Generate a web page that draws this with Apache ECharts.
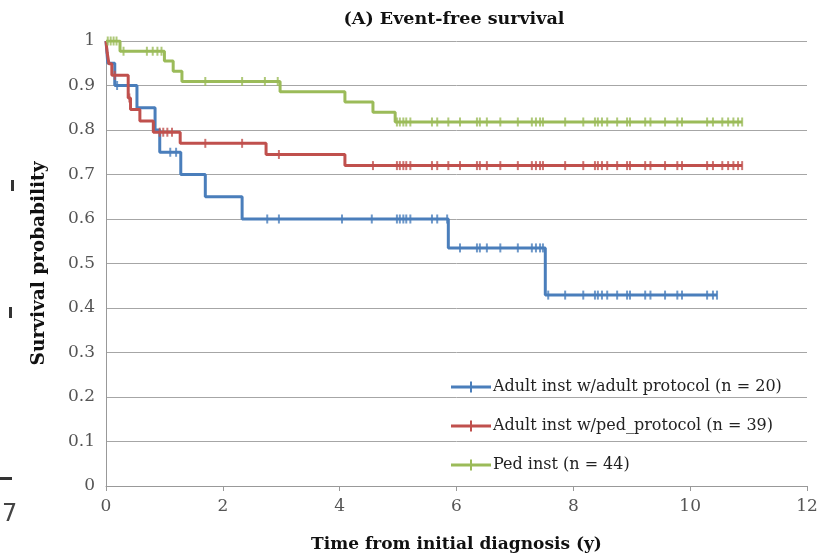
<!DOCTYPE html>
<html>
<head>
<meta charset="utf-8">
<script src="https://cdn.jsdelivr.net/npm/echarts@6/dist/echarts.min.js"></script>
<style>html,body{margin:0;padding:0;background:#fff;}#c{width:836px;height:558px;}</style>
</head>
<body>
<div id="c"></div>
<script>
// ---- data ----
const seriesNames = ["Adult inst w/adult protocol (n = 20)", "Adult inst w/ped_protocol (n = 39)", "Ped inst (n = 44)"];
const xTicks = [0, 2, 4, 6, 8, 10, 12];

const blueTimes = [0, 0.03, 0.15, 0.53, 0.84, 0.92, 1.28, 1.70, 2.33, 5.86, 7.52, 10.46];
const blueSurv  = [1, 0.95, 0.90, 0.85, 0.80, 0.75, 0.70, 0.65, 0.60, 0.535, 0.429, 0.429];
const blueCensor = [0.19, 1.10, 1.20, 2.76, 2.96, 4.04, 4.55, 4.98, 5.03, 5.09, 5.14, 5.21, 5.58, 5.67, 5.84,
  6.06, 6.35, 6.40, 6.52, 6.75, 7.05, 7.29, 7.36, 7.43, 7.48, 7.57, 7.86, 8.17, 8.37, 8.42, 8.49, 8.58,
  8.75, 8.92, 8.97, 9.23, 9.32, 9.57, 9.78, 9.86, 10.29, 10.39, 10.46];

const redTimes = [0, 0.02, 0.05, 0.10, 0.38, 0.42, 0.58, 0.81, 1.27, 2.74, 4.09, 10.89];
const redSurv  = [1, 0.974, 0.949, 0.923, 0.872, 0.846, 0.820, 0.795, 0.770, 0.745, 0.720, 0.720];
const redCensor = [0.15, 0.40, 0.92, 0.98, 1.05, 1.13, 1.70, 2.33, 2.96, 4.57, 4.98, 5.03, 5.09, 5.14, 5.21,
  5.58, 5.67, 5.86, 6.06, 6.35, 6.40, 6.52, 6.75, 7.05, 7.29, 7.36, 7.43, 7.48, 7.86, 8.17, 8.37, 8.42,
  8.49, 8.58, 8.75, 8.92, 8.97, 9.23, 9.32, 9.57, 9.78, 9.86, 10.29, 10.39, 10.55, 10.65, 10.74, 10.82, 10.89];

const greenTimes = [0, 0.24, 1.00, 1.15, 1.30, 2.98, 4.09, 4.57, 4.95, 10.89];
const greenSurv  = [1, 0.977, 0.955, 0.932, 0.909, 0.886, 0.863, 0.840, 0.818, 0.818];
const greenCensor = [0.03, 0.08, 0.13, 0.18, 0.30, 0.70, 0.80, 0.88, 0.95, 1.70, 2.33, 2.72, 2.94, 4.98, 5.03,
  5.09, 5.14, 5.21, 5.58, 5.67, 5.86, 6.06, 6.35, 6.40, 6.52, 6.75, 7.05, 7.29, 7.36, 7.43, 7.48, 7.86,
  8.17, 8.37, 8.42, 8.49, 8.58, 8.75, 8.92, 8.97, 9.23, 9.32, 9.57, 9.78, 9.86, 10.29, 10.39, 10.55,
  10.65, 10.74, 10.82, 10.89];

// ---- helpers ----
function survAt(times, surv, t) {
  let s = surv[0];
  for (let i = 0; i < times.length; i++) { if (times[i] <= t) s = surv[i]; }
  return s;
}
function stepData(times, surv) { return times.map((t, i) => [t, surv[i]]); }
function censorData(times, surv, cens) { return cens.map(t => [t, survAt(times, surv, t)]); }

const colors = ["#4A7EBB", "#C0504D", "#9BBB59"];
const groups = [
  [blueTimes, blueSurv, blueCensor],
  [redTimes, redSurv, redCensor],
  [greenTimes, greenSurv, greenCensor]
];

const series = [];
groups.forEach((g, i) => {
  series.push({
    name: seriesNames[i], type: "line", step: "end", data: stepData(g[0], g[1]),
    showSymbol: false, symbol: "none", lineStyle: { color: colors[i], width: 3 },
    itemStyle: { color: colors[i] }, z: 3 + i
  });
  series.push({
    name: seriesNames[i] + " censor", type: "scatter", data: censorData(g[0], g[1], g[2]),
    symbol: "rect", symbolSize: [2, 9], itemStyle: { color: colors[i] }, z: 3 + i, silent: true
  });
});

const serif = "'DejaVu Serif', 'Liberation Serif', serif";
const chart = echarts.init(document.getElementById("c"), null, { renderer: "canvas" });
chart.setOption({
  animation: false,
  backgroundColor: "#ffffff",
  title: {
    text: "(A) Event-free survival", left: 449, top: 5, textAlign: "center",
    textStyle: { fontFamily: serif, fontWeight: "bold", fontSize: 17.5, color: "#111" }
  },
  grid: { left: 106, right: 29, top: 41, bottom: 71, containLabel: false },
  legend: {
    data: seriesNames, orient: "vertical", left: 446, top: 374, itemGap: 23,
    itemWidth: 42, itemHeight: 11,
    icon: "path://M0,4h40v3h-40zM19,0h2v11h-2z",
    textStyle: { fontFamily: serif, fontSize: 16, color: "#222", padding: [0, 0, 0, -4] },
    itemStyle: { borderWidth: 0 }
  },
  xAxis: {
    type: "value", min: 0, max: 12, interval: 2,
    name: "Time from initial diagnosis (y)", nameLocation: "middle", nameGap: 50,
    nameTextStyle: { fontFamily: serif, fontWeight: "bold", fontSize: 17, color: "#111" },
    axisLine: { show: true, lineStyle: { color: "#999", width: 1 } },
    axisTick: { show: true, length: 5, lineStyle: { color: "#999" } },
    axisLabel: { fontFamily: serif, fontSize: 17, color: "#555", margin: 12,
      formatter: v => (xTicks.indexOf(v) >= 0 ? String(v) : "") },
    splitLine: { show: false }
  },
  yAxis: {
    type: "value", min: 0, max: 1, interval: 0.1,
    name: "Survival probability", nameLocation: "middle", nameGap: 57, nameRotate: 90,
    nameTextStyle: { fontFamily: serif, fontWeight: "bold", fontSize: 18.5, color: "#111" },
    axisLine: { show: true, lineStyle: { color: "#999", width: 1 } },
    axisTick: { show: false },
    axisLabel: { fontFamily: serif, fontSize: 17, color: "#555", margin: 11,
      formatter: v => String(Math.round(v * 10) / 10) },
    splitLine: { show: true, lineStyle: { color: "#a6a6a6", width: 1 } }
  },
  graphic: [
    { type: "text", left: 2, top: 503, style: { text: "7", font: "24px 'DejaVu Sans', sans-serif", fill: "#444" } },
    { type: "rect", shape: { x: 11, y: 180, width: 3, height: 11 }, style: { fill: "#333" } },
    { type: "rect", shape: { x: 9, y: 307, width: 3, height: 11 }, style: { fill: "#333" } },
    { type: "rect", shape: { x: 0, y: 477, width: 12, height: 3 }, style: { fill: "#333" } }
  ],
  series: series
});
</script>
</body>
</html>
